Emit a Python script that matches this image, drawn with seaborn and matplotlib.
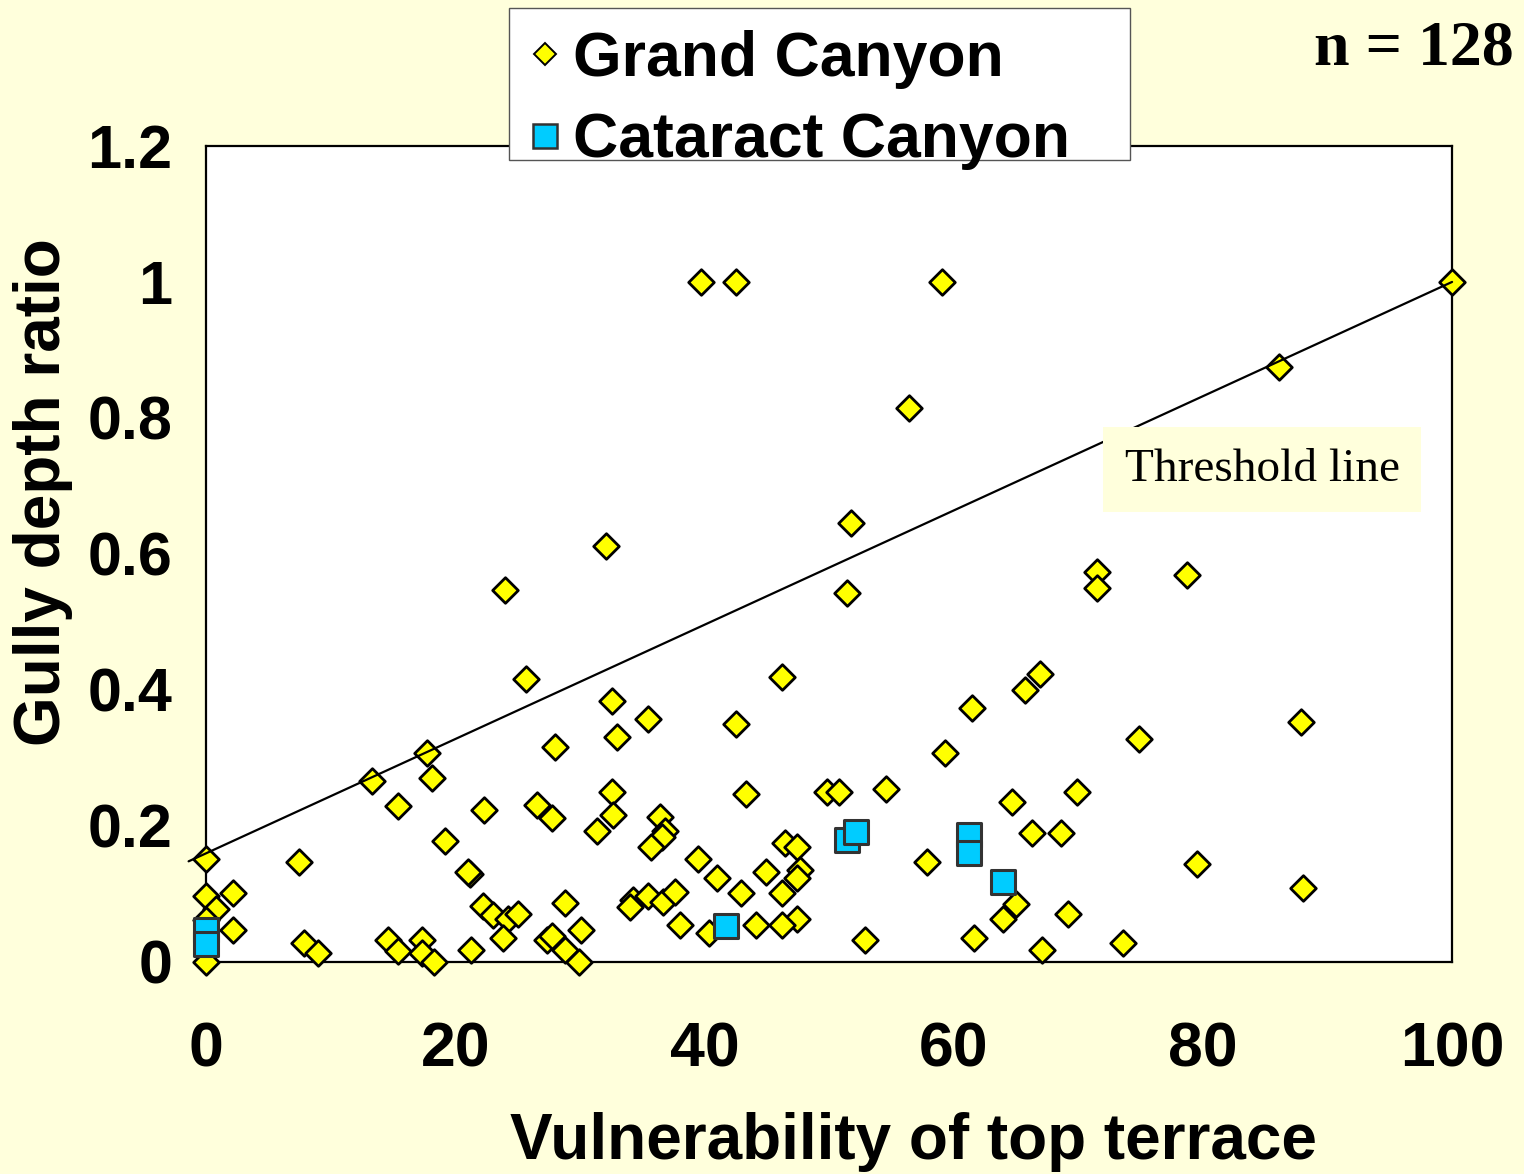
import numpy as np
import pandas as pd
import seaborn as sns
import matplotlib.pyplot as plt
from matplotlib.lines import Line2D
from matplotlib.patches import Rectangle
from matplotlib.ticker import MultipleLocator

# --- datos ---
gc_x = [39.7, 42.5, 59.1, 100.0, 86.1, 56.4, 51.8, 32.1, 51.4, 24.0,
        71.5, 71.5, 78.7, 25.7, 46.2, 66.9, 65.7, 61.5, 32.6, 35.5,
        42.5, 87.9, 33.0, 28.0, 74.9, 17.7, 59.3, 13.3, 18.1, 15.4,
        32.6, 43.3, 49.8, 50.8, 54.6, 69.9, 64.7, 22.3, 26.6, 27.8,
        32.7, 36.4, 36.8, 36.6, 35.7, 31.4, 19.2, 66.3, 68.6, 46.5,
        47.4, 0.0, 7.5, 39.5, 57.9, 79.5, 21.2, 21.0, 41.0, 44.9,
        47.7, 47.4, 0.0, 2.2, 0.8, 42.9, 46.2, 88.0, 22.2, 23.0,
        24.2, 25.0, 28.8, 34.3, 34.0, 35.5, 36.7, 37.6, 65.0, 69.2,
        64.0, 47.4, 46.2, 44.1, 38.0, 40.4, 2.2, 0.0, 0.0, 7.9,
        9.0, 14.6, 15.4, 17.3, 17.3, 18.3, 21.3, 23.8, 27.4, 27.8,
        28.8, 29.9, 30.1, 52.9, 61.6, 67.1, 73.6]
gc_y = [1.0, 1.0, 1.0, 1.0, 0.875, 0.815, 0.646, 0.612, 0.543, 0.547,
        0.574, 0.55, 0.569, 0.416, 0.419, 0.424, 0.40, 0.374, 0.384, 0.357,
        0.35, 0.353, 0.331, 0.316, 0.328, 0.307, 0.307, 0.266, 0.271, 0.229,
        0.25, 0.247, 0.25, 0.25, 0.254, 0.25, 0.235, 0.224, 0.231, 0.212,
        0.216, 0.213, 0.193, 0.184, 0.169, 0.193, 0.178, 0.19, 0.19, 0.175,
        0.169, 0.151, 0.147, 0.151, 0.147, 0.144, 0.129, 0.132, 0.124, 0.132,
        0.135, 0.124, 0.097, 0.101, 0.078, 0.101, 0.101, 0.109, 0.082, 0.069,
        0.063, 0.071, 0.087, 0.091, 0.081, 0.097, 0.088, 0.103, 0.085, 0.071,
        0.063, 0.063, 0.054, 0.054, 0.054, 0.043, 0.047, 0.062, 0.0, 0.028,
        0.013, 0.032, 0.016, 0.032, 0.013, 0.0, 0.018, 0.035, 0.032, 0.038,
        0.018, 0.0, 0.047, 0.032, 0.035, 0.018, 0.028]

cc_x = [0.0, 0.0, 41.7, 51.4, 52.2, 61.2, 61.2, 64.0]
cc_y = [0.047, 0.026, 0.053, 0.179, 0.191, 0.187, 0.16, 0.118]

# linea umbral
thr_x = [-1.4, 100.0]
thr_y = [0.148, 1.0]

yticks = [0, 0.2, 0.4, 0.6, 0.8, 1.0, 1.2]
ytick_labels = ['0', '0.2', '0.4', '0.6', '0.8', '1', '1.2']
xticks = [0, 20, 40, 60, 80, 100]

df_gc = pd.DataFrame({'x': gc_x, 'y': gc_y})
df_cc = pd.DataFrame({'x': cc_x, 'y': cc_y})

sns.set_style("white")
plt.rcParams['font.family'] = ['Liberation Sans', 'DejaVu Sans']
plt.rcParams['text.color'] = 'black'
plt.rcParams['axes.labelcolor'] = 'black'
plt.rcParams['xtick.color'] = 'black'
plt.rcParams['ytick.color'] = 'black'

bg = '#FFFFDC'
fig = plt.figure(figsize=(15.24, 11.74), dpi=100, facecolor=bg)
ax = fig.add_axes([0.1352, 0.1806, 0.8176, 0.6951])
ax.set_facecolor('white')

sns.scatterplot(data=df_gc, x='x', y='y', marker='D', s=170, color='#FFFF00',
                edgecolor='black', linewidth=2.0, ax=ax, clip_on=False, zorder=3)
ax.plot(thr_x, thr_y, color='black', linewidth=1.6, clip_on=False, zorder=4)
sns.scatterplot(data=df_cc, x='x', y='y', marker='s', s=300, color='#00CCFF',
                edgecolor='#333333', linewidth=2.2, ax=ax, clip_on=False, zorder=5)

ax.set_xlim(0, 100)
ax.set_ylim(0, 1.2)
ax.set_xticks(xticks)
ax.set_xticklabels([str(t) for t in xticks])
ax.set_yticks(yticks)
ax.set_yticklabels(ytick_labels)
ax.xaxis.set_minor_locator(MultipleLocator(4))
ax.yaxis.set_minor_locator(MultipleLocator(0.04))
ax.tick_params(axis='both', which='both', direction='in', top=False, right=False,
               color='black', width=1.2)
ax.tick_params(axis='x', which='major', length=13, labelsize=45, pad=42)
ax.tick_params(axis='y', which='major', length=13, labelsize=44, pad=24)
ax.tick_params(axis='both', which='minor', length=8.5)
for lab in ax.get_xticklabels() + ax.get_yticklabels():
    lab.set_fontweight('bold')

for sp in ax.spines.values():
    sp.set_color('black')
    sp.set_linewidth(1.6)

ax.set_xlabel('Vulnerability of top terrace', fontsize=46, fontweight='bold')
ax.xaxis.set_label_coords(0.568, -0.184)
ax.set_ylabel('Gully depth ratio', fontsize=46, fontweight='bold')
ax.yaxis.set_label_coords(-0.107, 0.576)

ax.text(84.75, 0.7235, 'Threshold line', fontsize=34, family='Liberation Serif',
        ha='center', va='center', zorder=6,
        bbox=dict(boxstyle='square,pad=0.45', facecolor=bg, edgecolor='none'))

fig.text(0.993, 0.958, 'n = 128', fontsize=46, fontweight='bold',
         family='Liberation Serif', ha='right', va='center')

# caja de la leyenda
fig.patches.append(Rectangle((509 / 1524, 1 - 160 / 1174), 621 / 1524, 152 / 1174,
                             transform=fig.transFigure, facecolor='white',
                             edgecolor='#555555', linewidth=1.0, zorder=9))

handles = [
    Line2D([], [], linestyle='none', marker='D', markersize=11, markerfacecolor='#FFFF00',
           markeredgecolor='black', markeredgewidth=1.4),
    Line2D([], [], linestyle='none', marker='s', markersize=17, markerfacecolor='#00CCFF',
           markeredgecolor='#333333', markeredgewidth=1.8),
]
leg = fig.legend(handles, ['Grand Canyon', 'Cataract Canyon'],
                 loc='upper left', bbox_to_anchor=(520 / 1524, 1 - 30 / 1174),
                 prop={'family': 'Liberation Sans', 'weight': 'bold', 'size': 45},
                 frameon=False, borderpad=0, labelspacing=0.36,
                 handlelength=0.8, handletextpad=0.05, borderaxespad=0)
leg.set_zorder(10)

plt.savefig('out.png', dpi=100, facecolor=bg)
plt.close()
